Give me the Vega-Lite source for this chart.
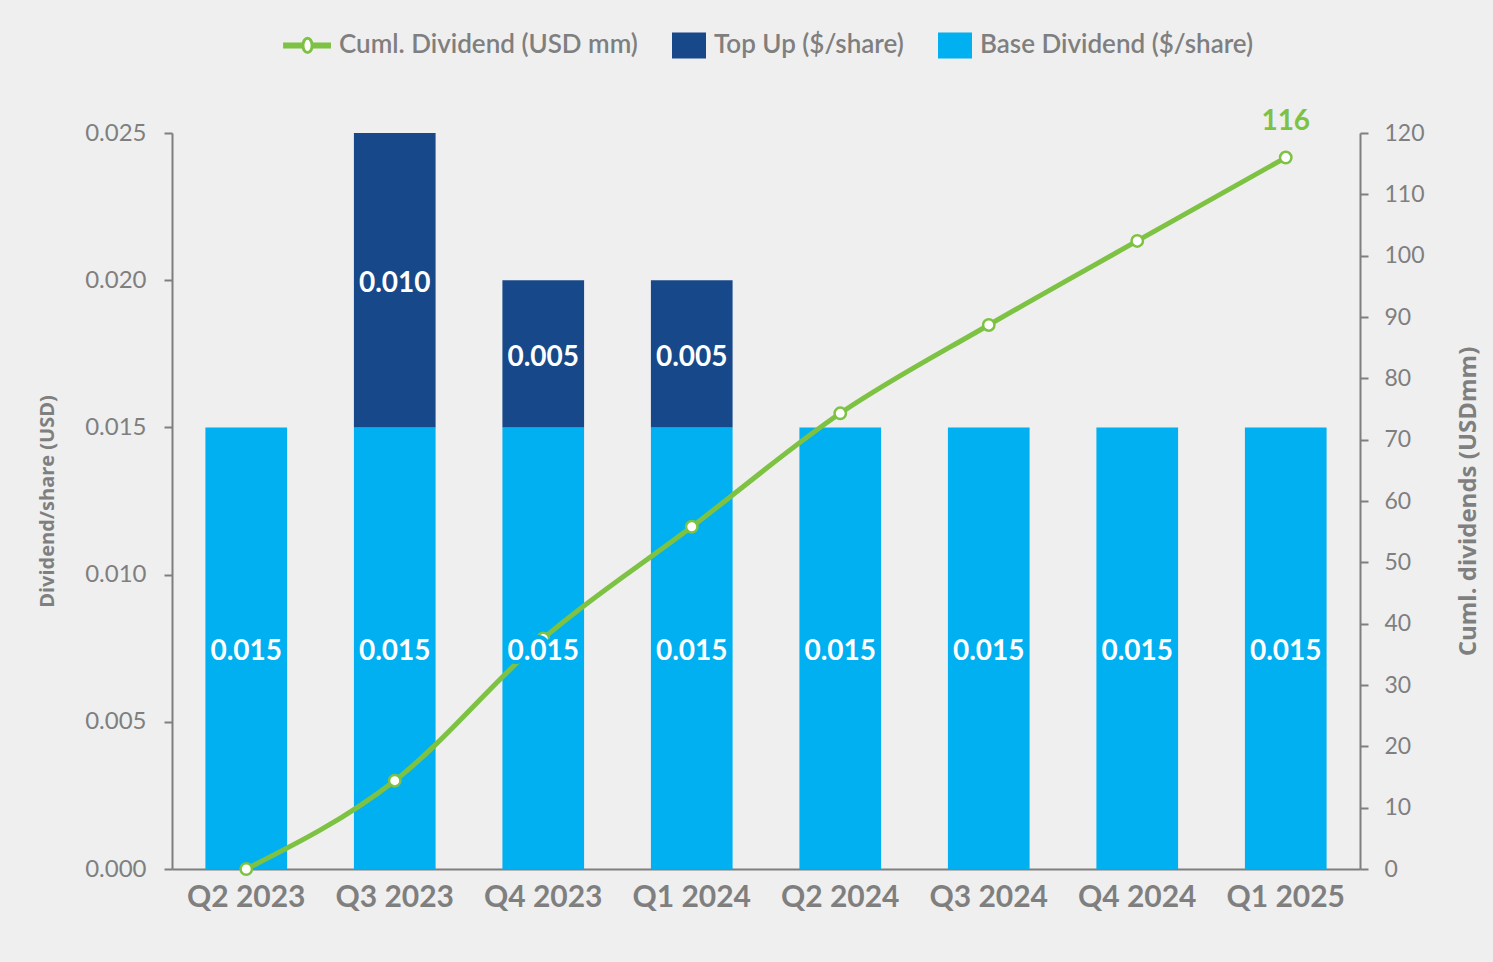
{
  "$schema": "https://vega.github.io/schema/vega-lite/v6.json",
  "width": 1188,
  "height": 736,
  "autosize": {"type": "none"},
  "padding": {"left": 172, "top": 133, "right": 133, "bottom": 93},
  "background": "#efefef",
  "config": {"view": {"stroke": null}, "font": "Lato"},
  "datasets": {
    "bars": [
      {"q": "Q2 2023", "series": "Base Dividend ($/share)", "v": 0.015, "ord": 1},
      {"q": "Q3 2023", "series": "Base Dividend ($/share)", "v": 0.015, "ord": 1},
      {"q": "Q3 2023", "series": "Top Up ($/share)", "v": 0.010, "ord": 2},
      {"q": "Q4 2023", "series": "Base Dividend ($/share)", "v": 0.015, "ord": 1},
      {"q": "Q4 2023", "series": "Top Up ($/share)", "v": 0.005, "ord": 2},
      {"q": "Q1 2024", "series": "Base Dividend ($/share)", "v": 0.015, "ord": 1},
      {"q": "Q1 2024", "series": "Top Up ($/share)", "v": 0.005, "ord": 2},
      {"q": "Q2 2024", "series": "Base Dividend ($/share)", "v": 0.015, "ord": 1},
      {"q": "Q3 2024", "series": "Base Dividend ($/share)", "v": 0.015, "ord": 1},
      {"q": "Q4 2024", "series": "Base Dividend ($/share)", "v": 0.015, "ord": 1},
      {"q": "Q1 2025", "series": "Base Dividend ($/share)", "v": 0.015, "ord": 1}
    ],
    "cum": [
      {"q": "Q2 2023", "cum": 0},
      {"q": "Q3 2023", "cum": 14.4},
      {"q": "Q4 2023", "cum": 37.6},
      {"q": "Q1 2024", "cum": 55.8},
      {"q": "Q2 2024", "cum": 74.3},
      {"q": "Q3 2024", "cum": 88.7},
      {"q": "Q4 2024", "cum": 102.4},
      {"q": "Q1 2025", "cum": 116}
    ]
  },
  "encoding": {
    "x": {
      "field": "q",
      "type": "ordinal",
      "sort": ["Q2 2023", "Q3 2023", "Q4 2023", "Q1 2024", "Q2 2024", "Q3 2024", "Q4 2024", "Q1 2025"],
      "scale": {"paddingInner": 0.45, "paddingOuter": 0.225},
      "axis": {
        "title": null,
        "labelAngle": 0,
        "labelFontSize": 30,
        "labelFontWeight": "bold",
        "labelColor": "#7f7f7f",
        "labelPadding": 13,
        "domainColor": "#7f7f7f",
        "domainWidth": 2,
        "ticks": false
      }
    }
  },
  "layer": [
    {
      "data": {"name": "bars"},
      "transform": [
        {"stack": "v", "groupby": ["q"], "sort": [{"field": "ord", "order": "ascending"}], "as": ["v0", "v1"]}
      ],
      "mark": {"type": "bar"},
      "encoding": {
        "y": {
          "field": "v1",
          "type": "quantitative",
          "scale": {"domain": [0, 0.025], "nice": false},
          "axis": {
            "values": [0, 0.005, 0.01, 0.015, 0.02, 0.025],
            "format": ".3f",
            "grid": false,
            "labelFontSize": 24,
            "labelColor": "#7f7f7f",
            "labelPadding": 18,
            "domainColor": "#7f7f7f",
            "domainWidth": 2,
            "tickColor": "#7f7f7f",
            "tickWidth": 2,
            "tickSize": 8,
            "title": "Dividend/share (USD)",
            "titleFont": "Open Sans",
            "titleFontSize": 20,
            "titleFontWeight": "bold",
            "titleColor": "#7f7f7f",
            "titleAngle": -90,
            "titleX": -125,
            "titleY": 368,
            "titleBaseline": "middle",
            "titleAlign": "center"
          }
        },
        "y2": {"field": "v0"},
        "color": {
          "field": "series",
          "type": "nominal",
          "scale": {
            "domain": ["Cuml. Dividend (USD mm)", "Top Up ($/share)", "Base Dividend ($/share)"],
            "range": ["#ffffff", "#17498a", "#00b0f0"]
          },
          "legend": {
            "orient": "none",
            "legendX": 129,
            "legendY": -101,
            "direction": "horizontal",
            "title": null,
            "labelFontSize": 26,
            "labelFontWeight": 600,
            "labelColor": "#7f7f7f",
            "labelLimit": 500,
            "labelOffset": 12,
            "columnPadding": 34,
            "symbolSize": 1156,
            "encode": {
              "symbols": {
                "update": {
                  "shape": {"signal": "datum.value === 'Cuml. Dividend (USD mm)' ? 'M-1.73,-0.088H-0.65V0.088H-1.73ZM-0.11,-0.088H0.91V0.088H-0.11ZM-0.65,0A0.27,0.42 0 1,1 -0.11,0A0.27,0.42 0 1,1 -0.65,0Z' : 'M-1,-0.765H1V0.765H-1Z'"},
                  "stroke": {"signal": "datum.value === 'Cuml. Dividend (USD mm)' ? '#7dc242' : 'transparent'"},
                  "strokeWidth": {"signal": "datum.value === 'Cuml. Dividend (USD mm)' ? 3 : 0"},
                  "opacity": {"value": 1},
                  "fillOpacity": {"value": 1},
                  "strokeOpacity": {"value": 1}
                }
              }
            }
          }
        }
      }
    },
    {
      "data": {"name": "cum"},
      "layer": [
        {
          "mark": {"type": "line", "strokeWidth": 5, "interpolate": "monotone", "stroke": "#7dc242"},
          "encoding": {
            "y": {
              "field": "cum",
              "type": "quantitative",
              "scale": {"domain": [0, 120], "nice": false},
              "axis": {
                "orient": "right",
                "values": [0, 10, 20, 30, 40, 50, 60, 70, 80, 90, 100, 110, 120],
                "grid": false,
                "labelFontSize": 23,
                "labelColor": "#7f7f7f",
                "labelPadding": 16,
                "domainColor": "#7f7f7f",
                "domainWidth": 2,
                "tickColor": "#7f7f7f",
                "tickWidth": 2,
                "tickSize": 8,
                "title": "Cuml. dividends (USDmm)",
                "titleFont": "Open Sans",
                "titleFontSize": 24,
                "titleFontWeight": "bold",
                "titleColor": "#7f7f7f",
                "titleAngle": -90,
                "titleX": 108,
                "titleY": 368,
                "titleBaseline": "middle",
                "titleAlign": "center"
              }
            }
          }
        },
        {
          "mark": {"type": "point", "filled": true, "fill": "#ffffff", "stroke": "#7dc242", "strokeWidth": 2.5, "size": 130, "opacity": 1},
          "encoding": {
            "y": {"field": "cum", "type": "quantitative"}
          }
        },
        {
          "transform": [{"filter": "datum.q === 'Q1 2025'"}],
          "mark": {"type": "text", "dy": -36, "fontSize": 28, "fontWeight": "bold", "color": "#7dc242"},
          "encoding": {
            "y": {"field": "cum", "type": "quantitative"},
            "text": {"field": "cum", "type": "quantitative", "format": "d"}
          }
        }
      ]
    },
    {
      "data": {"name": "bars"},
      "transform": [
        {"stack": "v", "groupby": ["q"], "sort": [{"field": "ord", "order": "ascending"}], "as": ["v0", "v1"]},
        {"calculate": "(datum.v0 + datum.v1) / 2", "as": "mid"}
      ],
      "layer": [
        {
          "transform": [{"filter": "datum.ord === 1"}],
          "mark": {"type": "text", "dy": 4, "fontSize": 28, "fontWeight": "bold", "color": "#00b0f0", "stroke": "#00b0f0", "strokeWidth": 8, "strokeJoin": "miter"},
          "encoding": {
            "y": {"field": "mid", "type": "quantitative", "scale": {"domain": [0, 0.025], "nice": false}, "axis": null},
            "text": {"field": "v", "type": "quantitative", "format": ".3f"}
          }
        },
        {
          "mark": {"type": "text", "dy": 4, "fontSize": 28, "fontWeight": "bold", "color": "#ffffff"},
          "encoding": {
            "y": {"field": "mid", "type": "quantitative", "scale": {"domain": [0, 0.025], "nice": false}, "axis": null},
            "text": {"field": "v", "type": "quantitative", "format": ".3f"}
          }
        }
      ]
    }
  ],
  "resolve": {"scale": {"y": "independent"}}
}
